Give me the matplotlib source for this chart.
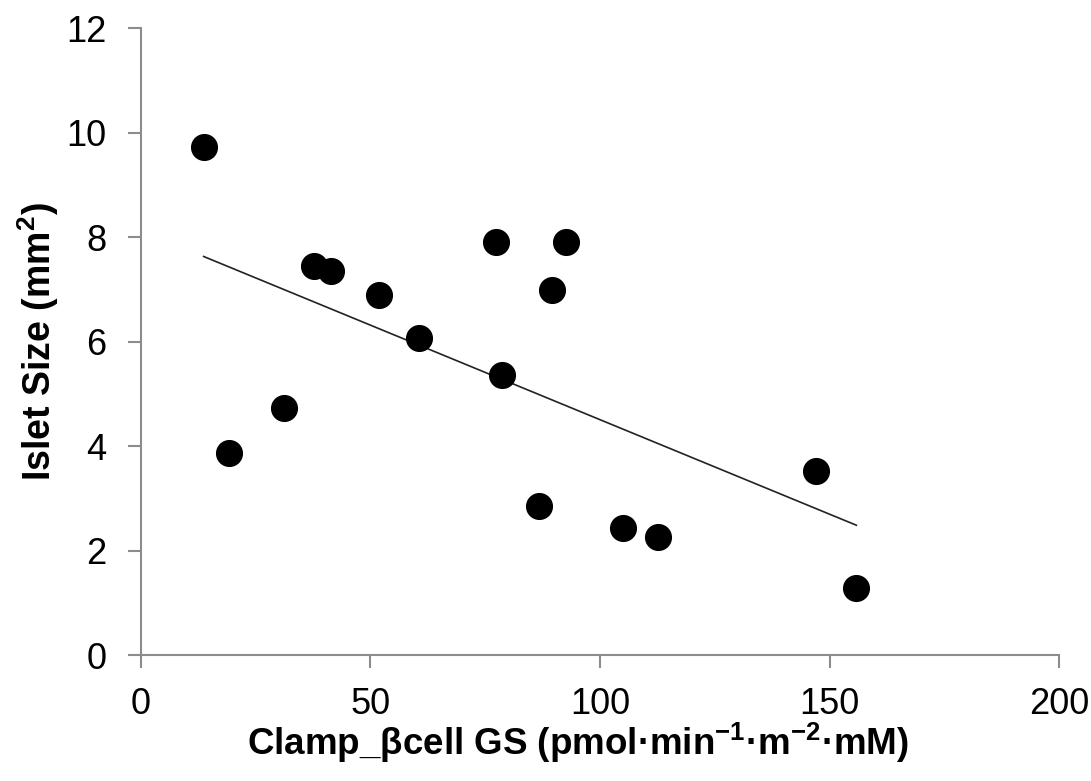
import numpy as np
import matplotlib
matplotlib.use("Agg")
import matplotlib.pyplot as plt

plt.rcParams['font.family'] = ['Liberation Sans', 'DejaVu Sans']
plt.rcParams['mathtext.fontset'] = 'custom'
plt.rcParams['mathtext.bf'] = 'Liberation Sans:bold'
plt.rcParams['mathtext.rm'] = 'Liberation Sans:bold'

# data
clamp_gs = [13.7, 19.2, 31.2, 37.7, 41.4, 51.9, 60.6, 77.3, 78.6, 86.7,
            89.5, 92.6, 105.0, 112.6, 147.1, 155.8]
islet_size = [9.72, 3.87, 4.73, 7.44, 7.35, 6.89, 6.07, 7.90, 5.36, 2.85,
              6.99, 7.90, 2.43, 2.26, 3.52, 1.28]

x = np.array(clamp_gs)
y = np.array(islet_size)

fig = plt.figure(figsize=(10.91, 7.81), dpi=100)
ax = fig.add_axes([0.129, 0.161, 0.842, 0.803])

ax.plot(x, y, 'o', color='black', markersize=18.5, zorder=3)

# linear trend line over the data range
slope, intercept = np.polyfit(x, y, 1)
xl = np.array([x.min(), x.max()])
ax.plot(xl, slope * xl + intercept, color='#222222', linewidth=1.2, zorder=2)

ax.set_xlim(0, 200)
ax.set_ylim(0, 12)
ax.set_xticks([0, 50, 100, 150, 200])
ax.set_yticks([0, 2, 4, 6, 8, 10, 12])

for s in ['top', 'right']:
    ax.spines[s].set_visible(False)
for s in ['left', 'bottom']:
    ax.spines[s].set_color('#8c8c8c')
    ax.spines[s].set_linewidth(1.5)

ax.tick_params(axis='both', direction='out', length=9.5, width=1.5,
               color='#8c8c8c', labelsize=26)
ax.tick_params(axis='y', pad=15)
ax.tick_params(axis='x', pad=13)

ax.set_xlabel(r'Clamp_βcell GS (pmol·min$^{\mathbf{-1}}$·m$^{\mathbf{-2}}$·mM)',
              fontsize=26.5, fontweight='bold')
ax.xaxis.set_label_coords(0.476, -0.104, transform=ax.transAxes)
ax.set_ylabel(r'Islet Size (mm$^{\mathbf{2}}$)', fontsize=27, fontweight='bold', labelpad=4)

fig.savefig('out.png', dpi=100)
